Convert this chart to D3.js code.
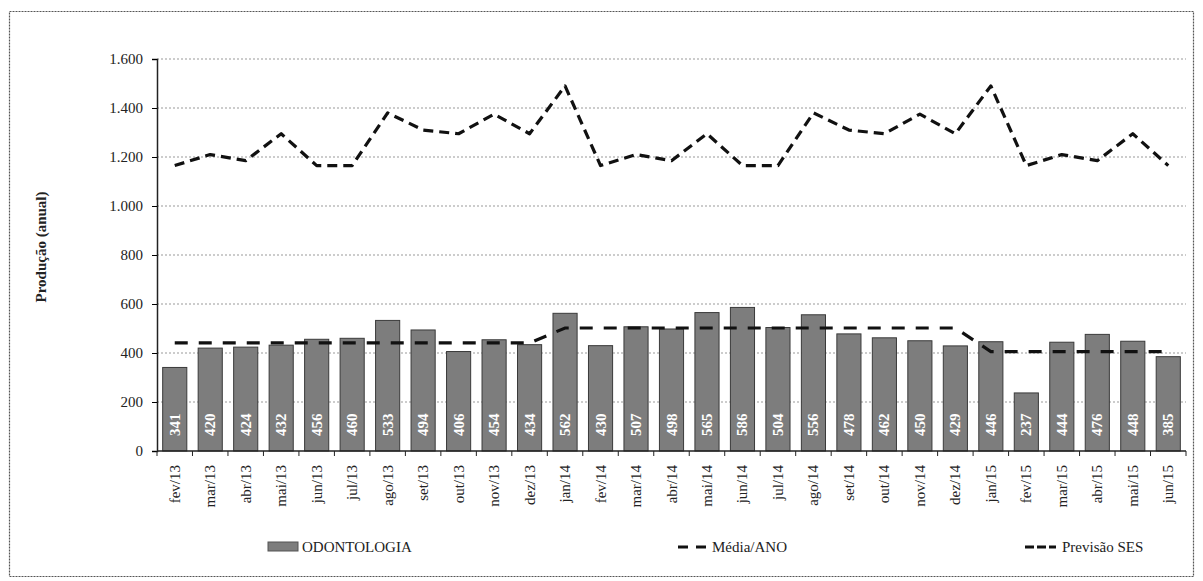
<!DOCTYPE html>
<html>
<head>
<meta charset="utf-8">
<script src="https://cdn.jsdelivr.net/npm/d3@7"></script>
<style>
  body { margin: 0; background: #fff; }
</style>
</head>
<body>
<div id="chart"></div>
<script>
var months = ["fev/13","mar/13","abr/13","mai/13","jun/13","jul/13","ago/13","set/13","out/13","nov/13","dez/13",
  "jan/14","fev/14","mar/14","abr/14","mai/14","jun/14","jul/14","ago/14","set/14","out/14","nov/14","dez/14",
  "jan/15","fev/15","mar/15","abr/15","mai/15","jun/15"];
var odontologia = [341,420,424,432,456,460,533,494,406,454,434,
  562,430,507,498,565,586,504,556,478,462,450,429,
  446,237,444,476,448,385];
var mediaAno = [441,441,441,441,441,441,441,441,441,441,441,
  502,502,502,502,502,502,502,502,502,502,502,502,
  406,406,406,406,406,406];
var previsaoSES = [1165,1210,1185,1295,1165,1165,1380,1310,1295,1375,1295,
  1490,1165,1210,1185,1295,1165,1165,1380,1310,1295,1375,1295,
  1490,1165,1210,1185,1295,1165];
var yTicks = [0,200,400,600,800,1000,1200,1400,1600];

var FONT = "Liberation Serif";
var W = 1203, H = 581;
var margin = {top: 59, left: 157, right: 17, bottom: 130};
var width = W - margin.left - margin.right,
    height = H - margin.top - margin.bottom;

var locale = d3.formatLocale({decimal: ",", thousands: ".", grouping: [3], currency: ["R$", ""]});
var fmt = locale.format(",d");

var x = d3.scaleBand().domain(months).range([0, width]).paddingInner(0.32).paddingOuter(0.16);
var y = d3.scaleLinear().domain([0, 1600]).range([height, 0]);

var svg = d3.select("#chart").append("svg").attr("width", W).attr("height", H)
  .attr("font-family", FONT);

// outer frame
svg.append("rect")
  .attr("x", 9.5).attr("y", 11.5).attr("width", W - 19).attr("height", H - 16)
  .attr("fill", "none").attr("stroke", "#555").attr("stroke-width", 1.2)
  .attr("stroke-dasharray", "2,1");

var g = svg.append("g").attr("transform", "translate(" + margin.left + "," + margin.top + ")");

// gridlines
g.append("g").selectAll("line").data(yTicks.slice(1)).join("line")
  .attr("x1", 0).attr("x2", width)
  .attr("y1", function(d) { return y(d); }).attr("y2", function(d) { return y(d); })
  .attr("stroke", "#999").attr("stroke-width", 1).attr("stroke-dasharray", "2,2");

// bars
var bars = g.append("g").selectAll("g").data(months).join("g");
bars.append("rect")
  .attr("x", function(d) { return x(d); })
  .attr("width", x.bandwidth())
  .attr("y", function(d, i) { return y(odontologia[i]); })
  .attr("height", function(d, i) { return height - y(odontologia[i]); })
  .attr("fill", "#7d7d7d").attr("stroke", "#3a3a3a").attr("stroke-width", 1);
bars.append("text")
  .attr("transform", function(d) {
    return "translate(" + (x(d) + x.bandwidth() / 2 + 5) + "," + (height - 15) + ") rotate(-90)";
  })
  .attr("fill", "#fff").attr("font-size", 15).attr("font-weight", "bold")
  .attr("font-family", FONT)
  .text(function(d, i) { return odontologia[i]; });

// lines
var line = function(vals) {
  return d3.line()
    .x(function(d) { return x(d) + x.bandwidth() / 2; })
    .y(function(d, i) { return y(vals[i]); })(months);
};
g.append("path").attr("d", line(mediaAno))
  .attr("fill", "none").attr("stroke", "#111").attr("stroke-width", 3.2)
  .attr("stroke-dasharray", "13,11");
g.append("path").attr("d", line(previsaoSES))
  .attr("fill", "none").attr("stroke", "#111").attr("stroke-width", 3.2)
  .attr("stroke-dasharray", "10,6").attr("stroke-linejoin", "round");

// y axis
var yAxis = d3.axisLeft(y).tickValues(yTicks).tickFormat(fmt).tickSize(5).tickPadding(9);
var ya = g.append("g").call(yAxis).attr("font-family", FONT);
ya.select(".domain").attr("stroke", "#222").attr("stroke-width", 1.5);
ya.selectAll("text").attr("font-size", 15).attr("fill", "#222").attr("font-family", FONT);

// x axis
var xa = g.append("g").attr("transform", "translate(0," + height + ")");
xa.append("line").attr("x1", 0).attr("x2", width).attr("stroke", "#222").attr("stroke-width", 1.3);
var step = x.step();
xa.selectAll(".tk").data(d3.range(months.length + 1)).join("line")
  .attr("x1", function(i) { return i * step; }).attr("x2", function(i) { return i * step; })
  .attr("y1", 0).attr("y2", 5).attr("stroke", "#222");
xa.selectAll(".lbl").data(months).join("text")
  .attr("transform", function(d) {
    return "translate(" + (x(d) + x.bandwidth() / 2 + 5) + ",14) rotate(-90)";
  })
  .attr("text-anchor", "end").attr("font-size", 15).attr("fill", "#222")
  .attr("font-family", FONT)
  .text(function(d) { return d; });

// y title
svg.append("text")
  .attr("transform", "translate(46," + (margin.top + height / 2 - 8) + ") rotate(-90)")
  .attr("text-anchor", "middle").attr("font-size", 15).attr("font-weight", "bold").attr("fill", "#222")
  .attr("font-family", FONT)
  .text("Produção (anual)");

// legend
var leg = svg.append("g").attr("transform", "translate(0,547)").attr("font-family", FONT);
leg.append("rect").attr("x", 268).attr("y", -5).attr("width", 30).attr("height", 9)
  .attr("fill", "#7d7d7d").attr("stroke", "#555");
leg.append("text").attr("x", 302).attr("y", 5).attr("font-size", 15).attr("fill", "#222").text("ODONTOLOGIA");
leg.append("line").attr("x1", 678).attr("x2", 706).attr("y1", 0).attr("y2", 0)
  .attr("stroke", "#111").attr("stroke-width", 3).attr("stroke-dasharray", "10,8");
leg.append("text").attr("x", 712).attr("y", 5).attr("font-size", 15).attr("fill", "#222").text("Média/ANO");
leg.append("line").attr("x1", 1025).attr("x2", 1056).attr("y1", 0).attr("y2", 0)
  .attr("stroke", "#111").attr("stroke-width", 3).attr("stroke-dasharray", "9,3");
leg.append("text").attr("x", 1062).attr("y", 5).attr("font-size", 15).attr("fill", "#222").text("Previsão SES");
</script>
</body>
</html>
